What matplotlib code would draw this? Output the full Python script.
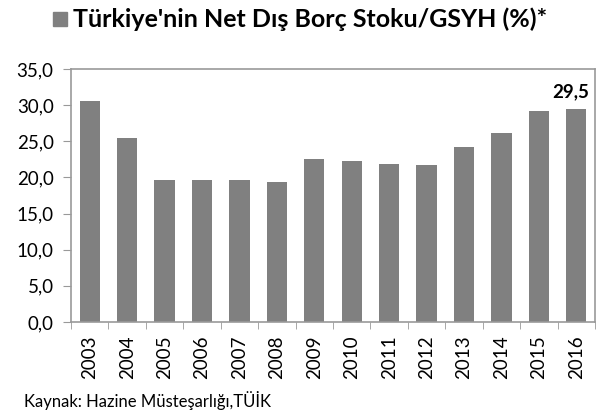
import matplotlib
matplotlib.use("Agg")
import matplotlib.pyplot as plt
from matplotlib.patches import Rectangle

years = ["2003", "2004", "2005", "2006", "2007", "2008", "2009", "2010",
         "2011", "2012", "2013", "2014", "2015", "2016"]
values = [30.6, 25.5, 19.7, 19.7, 19.7, 19.4, 22.5, 22.3, 21.9, 21.7, 24.2, 26.1, 29.2, 29.5]
yticks = [0, 5, 10, 15, 20, 25, 30, 35]

plt.rcParams['font.family'] = ['Lato', 'DejaVu Sans']

fig = plt.figure(figsize=(6.05, 4.18), dpi=100)
ax = fig.add_axes([71/605, 1 - 322/418, (595-71)/605, (322-69)/418])

x = list(range(len(years)))
ax.bar(x, values, width=0.54, color="#808080", zorder=2)
ax.set_xlim(-0.5, len(years) - 0.5)
ax.set_ylim(0, 35)
ax.set_yticks(yticks)
ax.set_yticklabels([f"{v:.1f}".replace(".", ",") for v in yticks], fontsize=13.5)
ax.set_xticks(x)
ax.set_xticklabels(years, rotation=90, fontsize=13.5)
ax.tick_params(axis="x", length=0, pad=9.5)
ax.set_xticks([i - 0.5 for i in range(len(years) + 1)], minor=True)
ax.tick_params(axis="x", which="minor", length=5, color="#999999", direction="out")
ax.tick_params(axis="y", length=5.5, color="#999999", direction="out", pad=7)
for s in ax.spines.values():
    s.set_color("#999999")
    s.set_linewidth(1.2)

ax.text(x[-1] - 0.15, values[-1] + 1.2, f"{values[-1]:.1f}".replace(".", ","),
        ha="center", va="bottom", fontsize=13.5, fontweight="bold")

# Legend-style title
fig.patches.append(Rectangle((53/605, 1 - 26/418), 14/605, 14/418,
                             transform=fig.transFigure, color="#808080"))
fig.text(73/605, 1 - 19/418, "Türkiye'nin Net Dış Borç Stoku/GSYH (%)*",
         fontsize=18, fontweight="bold", ha="left", va="center")

fig.text(24/605, 1 - 400/418, "Kaynak: Hazine Müsteşarlığı,TÜİK",
         fontsize=12, ha="left", va="center")

fig.savefig("out.png", dpi=100)
